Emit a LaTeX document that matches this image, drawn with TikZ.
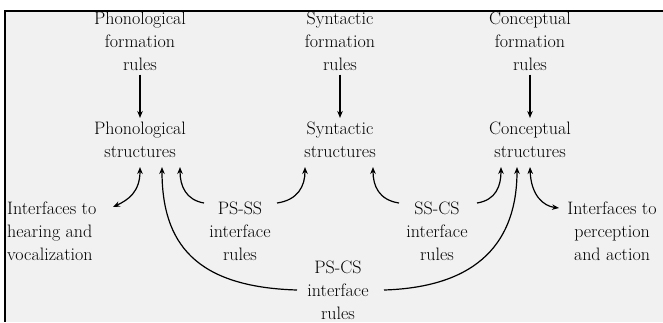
\documentclass[tikz,border=0pt]{standalone}
\usetikzlibrary{arrows.meta}
\definecolor{bggray}{HTML}{F1F1F1}
\tikzset{
  lbl/.style={align=center, inner sep=0pt, font=\fontsize{18}{23}\selectfont},
  lblleft/.style={align=left, inner sep=0pt, font=\fontsize{18}{23}\selectfont},
  conn/.style={line width=1.2pt, -{Stealth[length=7pt,width=5.5pt]}},
  dconn/.style={line width=1.2pt, {Stealth[length=7pt,width=5.5pt]}-{Stealth[length=7pt,width=5.5pt]}},
  frame/.style={line width=2pt}
}
\begin{document}
\begin{tikzpicture}[x=1pt,y=-1pt]
\useasboundingbox (0,0) rectangle (663,322);
\fill[white] (0,0) rectangle (663,322);
\fill[bggray] (6,11) rectangle (663,322);
\draw[frame] (663,11) -- (5,11) -- (5,322);
\begin{scope}
\clip (6,12) rectangle (663,322);
% top row
\node[lbl] (pf) at (140,41) {Phonological\\formation\\rules};
\node[lbl] (sf) at (340,41) {Syntactic\\formation\\rules};
\node[lbl] (cf) at (530,41) {Conceptual\\formation\\rules};
% structures
\node[lbl] (ps) at (140,140) {Phonological\\structures};
\node[lbl] (ss) at (340,140) {Syntactic\\structures};
\node[lbl] (cs) at (530,140) {Conceptual\\structures};
% interface labels
\node[lblleft, anchor=west] (ih) at (7,231) {Interfaces to\\hearing and\\vocalization};
\node[lbl] (psss) at (240,231) {PS-SS\\interface\\rules};
\node[lbl] (sscs) at (437,231) {SS-CS\\interface\\rules};
\node[lbl] (ip) at (612,231) {Interfaces to\\perception\\and action};
\node[lbl] (pscs) at (338,290) {PS-CS\\interface\\rules};
% vertical arrows
\draw[conn] ([yshift=-4pt]pf.south) -- ([yshift=4pt]ps.north);
\draw[conn] ([yshift=-4pt]sf.south) -- ([yshift=4pt]ss.north);
\draw[conn] ([yshift=-4pt]cf.south) -- ([yshift=4pt]cs.north);
% coordinates at the tips under the structures
\coordinate (psI) at (140,167);
\coordinate (psC) at (162,167);
\coordinate (psS) at (180,167);
\coordinate (ssP) at (305,167);
\coordinate (ssC) at (373,167);
\coordinate (csS) at (501,167);
\coordinate (csP) at (517,167);
\coordinate (csI) at (530,167);
% coordinates at the label ends
\coordinate (ihE) at (113,207);
\coordinate (pssL) at (204,203);
\coordinate (pssR) at (277,203);
\coordinate (sscL) at (399,203);
\coordinate (sscR) at (477,203);
\coordinate (pscL) at (297,290);
\coordinate (pscR) at (384,290);
\coordinate (ipW) at (559,208);
% curved connectors
\draw[dconn] (ihE) .. controls (128,200) and (140,192) .. (psI);
\draw[conn] (pssL) .. controls (186,200) and (180,186) .. (psS);
\draw[conn] (pssR) .. controls (298,200) and (305,186) .. (ssP);
\draw[conn] (sscL) .. controls (379,200) and (373,186) .. (ssC);
\draw[conn] (sscR) .. controls (496,200) and (501,186) .. (csS);
\draw[conn] (pscL) .. controls (195,287) and (162,243) .. (psC);
\draw[conn] (pscR) .. controls (480,287) and (517,240) .. (csP);
\draw[dconn] (csI) .. controls (531,195) and (543,206) .. (ipW);
\end{scope}
\end{tikzpicture}
\end{document}
